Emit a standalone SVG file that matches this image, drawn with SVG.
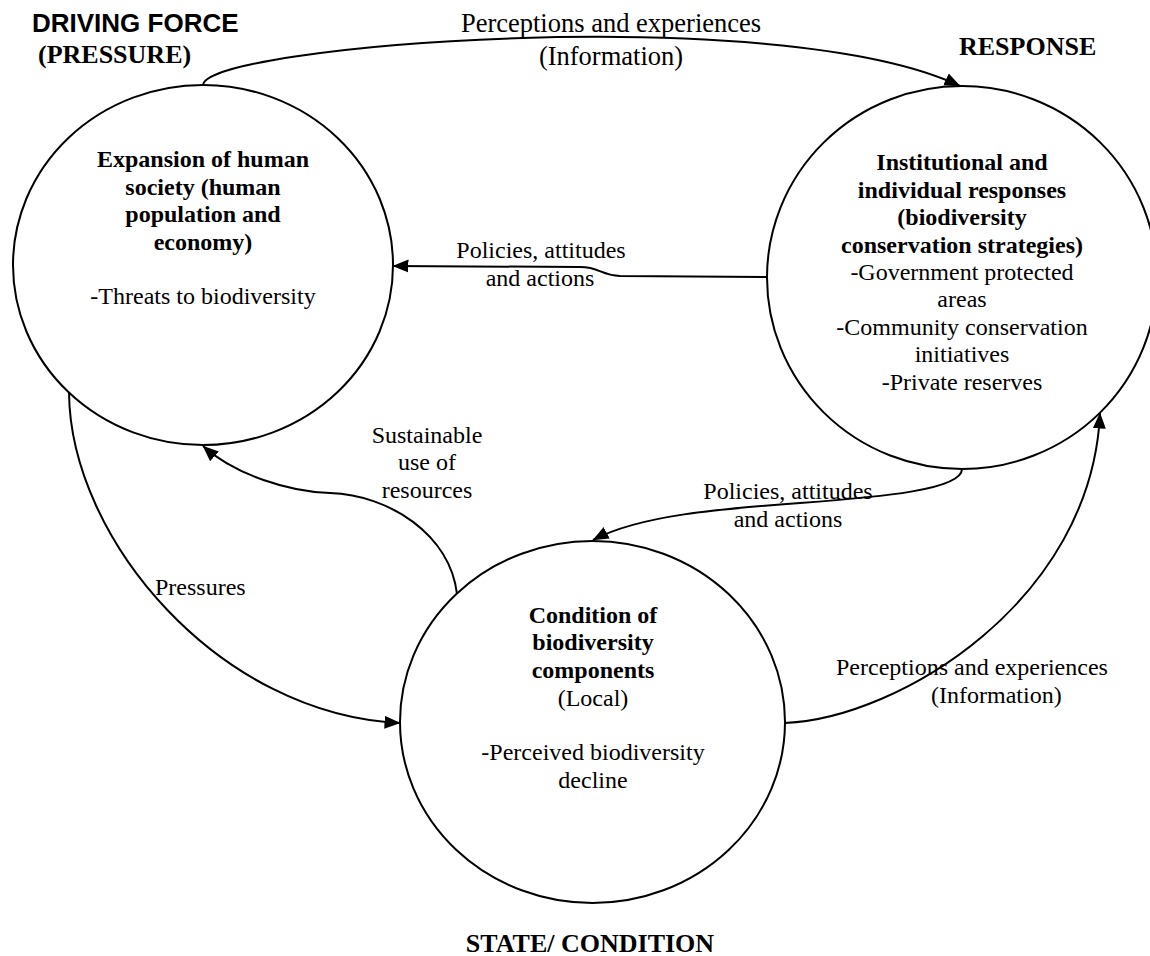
<svg xmlns="http://www.w3.org/2000/svg" width="1150" height="956" viewBox="0 0 1150 956">
<style>
.node{fill:#fff;stroke:#000;stroke-width:2}
.con{fill:none;stroke:#000;stroke-width:2;marker-end:url(#arr)}
text{font-family:"Liberation Serif","Times New Roman",serif;fill:#000}
.b{font-weight:bold;font-size:24px}
.r{font-size:24px}
.h{font-weight:bold;font-size:26px}
.m{text-anchor:middle}
</style>
<defs>
<marker id="arr" markerUnits="userSpaceOnUse" markerWidth="17" markerHeight="14" refX="15.5" refY="7" orient="auto">
<path d="M0,0.5 L16,7 L0,13.5 z" fill="#000"/>
</marker>
</defs>
<rect width="1150" height="956" fill="#fff"/>
<g id="connectors">
<path class="con" d="M203 85 C205 45 780 0 960 86"/>
<path class="con" d="M767 277 L620 276 C600 275 600 267 580 267 L393 266"/>
<path class="con" d="M69 392 C70 540 220 715 400 723"/>
<path class="con" d="M457 594 C450 535 390 495 330 493 C290 492 235 475 203 446"/>
<path class="con" d="M962 469 C962 490 880 497 800 503 C720 509 640 515 593 540"/>
<path class="con" d="M785 723 C900 718 1092 600 1100 413"/>
</g>
<g id="node-pressure">
<ellipse class="node" cx="203" cy="265" rx="190" ry="180"/>
<text class="b m" x="203" y="167">Expansion of human</text>
<text class="b m" x="203" y="195">society (human</text>
<text class="b m" x="203" y="222">population and</text>
<text class="b m" x="203" y="250">economy)</text>
<text class="r m" x="203" y="304">-Threats to biodiversity</text>
</g>
<g id="node-response">
<ellipse class="node" cx="962" cy="277.5" rx="195" ry="191.5"/>
<text class="b m" x="962" y="170">Institutional and</text>
<text class="b m" x="962" y="198">individual responses</text>
<text class="b m" x="962" y="225">(biodiversity</text>
<text class="b m" x="962" y="253">conservation strategies)</text>
<text class="r m" x="962" y="280">-Government protected</text>
<text class="r m" x="962" y="307">areas</text>
<text class="r m" x="962" y="335">-Community conservation</text>
<text class="r m" x="962" y="362">initiatives</text>
<text class="r m" x="962" y="390">-Private reserves</text>
</g>
<g id="node-state">
<ellipse class="node" cx="592.5" cy="722" rx="192.5" ry="181"/>
<text class="b m" x="593" y="623">Condition of</text>
<text class="b m" x="593" y="650">biodiversity</text>
<text class="b m" x="593" y="678">components</text>
<text class="r m" x="593" y="706">(Local)</text>
<text class="r m" x="593" y="760">-Perceived biodiversity</text>
<text class="r m" x="593" y="788">decline</text>
</g>
<g id="labels">
<text x="32" y="32" style="font-family:'Liberation Sans',Arial,sans-serif;font-weight:bold;font-size:26px">DRIVING FORCE</text>
<text class="h" x="38" y="63">(PRESSURE)</text>
<text class="h" x="959" y="55">RESPONSE</text>
<text class="h m" x="590" y="952">STATE/ CONDITION</text>
<text class="m" x="611" y="32" style="font-size:26.5px">Perceptions and experiences</text>
<text class="m" x="611" y="65" style="font-size:26.5px">(Information)</text>
<text class="r m" x="541" y="258">Policies, attitudes</text>
<text class="r m" x="540" y="286">and actions</text>
<text class="r m" x="427" y="443">Sustainable</text>
<text class="r m" x="427" y="470">use of</text>
<text class="r m" x="427" y="498">resources</text>
<text class="r" x="155" y="595">Pressures</text>
<text class="r m" x="788" y="499">Policies, attitudes</text>
<text class="r m" x="788" y="527">and actions</text>
<text class="r" x="836" y="675">Perceptions and experiences</text>
<text class="r" x="931" y="703">(Information)</text>
</g>
</svg>
